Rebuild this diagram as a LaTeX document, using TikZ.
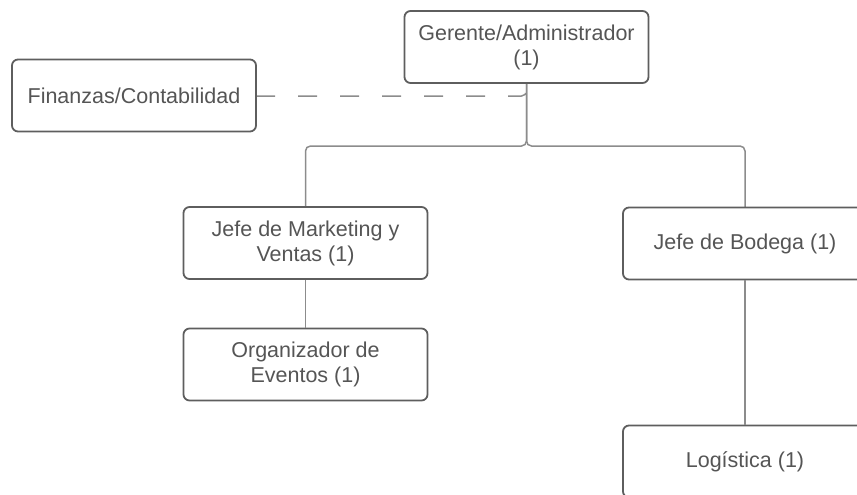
\documentclass[tikz,border=0pt]{standalone}
\usepackage{fontspec}
\setmainfont{Liberation Sans}
\definecolor{txtgray}{HTML}{555555}
\definecolor{boxgray}{HTML}{5E5E5E}
\definecolor{linegray}{HTML}{8C8C8C}
\begin{document}
\begin{tikzpicture}[x=1pt,y=-1pt,
  orgbox/.style={draw=boxgray, line width=1.8pt, rounded corners=6pt, fill=white,
    minimum width=244pt, minimum height=72pt, inner sep=0pt, align=center,
    text=txtgray, font=\fontsize{21.5}{25}\selectfont},
  conn/.style={draw=linegray, line width=1.5pt, rounded corners=5pt},
  dashconn/.style={conn, dash pattern=on 19pt off 23pt}]
\useasboundingbox (0,0) rectangle (857,495);
\clip (0,0) rectangle (857,495);
\coordinate (j) at (526.5,146);
% connectors
\draw[conn] (305.5,207) |- (j) -- (526.5,83);
\draw[conn] (745,207) |- (j) -- (526.5,83);
\draw[dashconn] (256,96) -| (526.5,83);
% nodes
\node[orgbox] (ger) at (526.5,47) {Gerente/Administrador\\(1)};
\node[orgbox] (fin) at (134,95.5) {Finanzas/Contabilidad};
\node[orgbox] (mkt) at (305.5,243) {Jefe de Marketing y\\Ventas (1)};
\node[orgbox] (bod) at (745,243.5) {Jefe de Bodega (1)};
\node[orgbox] (org) at (305.5,364.5) {Organizador de\\Eventos (1)};
\node[orgbox] (log) at (745,461.5) {Logística (1)};
\draw[conn] (mkt.south) -- (org.north);
\draw[conn] (bod.south) -- (log.north);
\end{tikzpicture}
\end{document}
